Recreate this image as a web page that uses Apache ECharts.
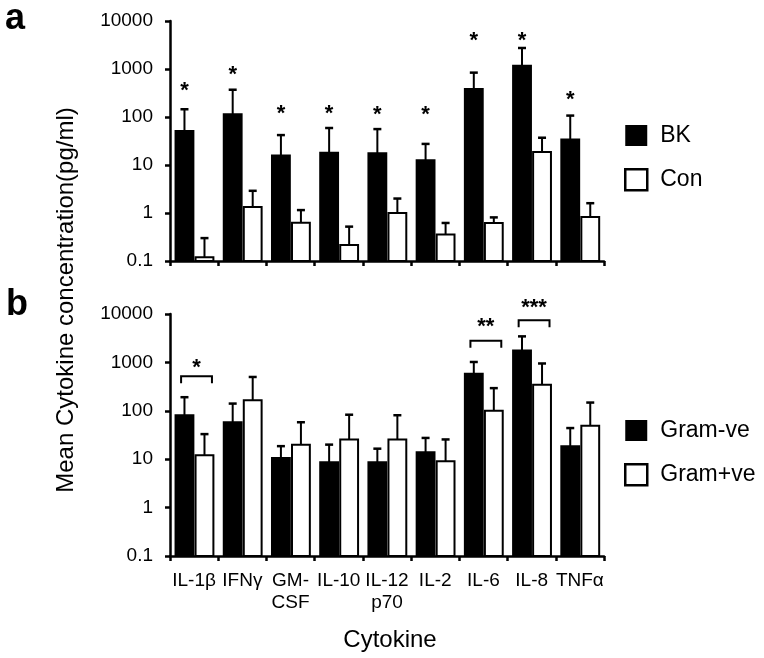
<!DOCTYPE html>
<html>
<head>
<meta charset="utf-8">
<script src="https://cdn.jsdelivr.net/npm/echarts@6/dist/echarts.min.js"></script>
<style>html,body{margin:0;padding:0;background:#fff;}#c{width:764px;height:658px;}</style>
</head>
<body>
<div id="c"></div>
<script>
const categories = ['IL-1β','IFNγ','GM-\nCSF','IL-10','IL-12\np70','IL-2','IL-6','IL-8','TNFα'];
const yTicks = [0.1, 1, 10, 100, 1000, 10000];

// Panel a
const bkMean   = [51, 114, 15.7, 18, 17.5, 12.5, 384, 1170, 34];
const bkUpper  = [145, 370, 42, 59, 56, 27.5, 840, 2740, 107];
const conMean  = [0.12, 1.33, 0.63, 0.215, 1.0, 0.355, 0.62, 18.7, 0.83];
const conUpper = [0.30, 2.9, 1.15, 0.52, 2.0, 0.62, 0.81, 37, 1.6];
const bkStarLevel = [436, 940, 145, 145, 138, 138, 5000, 5000, 294];

// Panel b
const gramNegMean  = [81, 58, 10.6, 8.6, 8.6, 14, 582, 1770, 18.5];
const gramNegUpper = [191, 141, 18.6, 20, 16.5, 27.5, 1020, 3450, 44];
const gramPosMean  = [12, 166, 20, 25.6, 25.6, 9.1, 100, 345, 49];
const gramPosUpper = [33, 500, 58, 83, 81, 25.6, 294, 950, 148];
const bracketCat = [0, 6, 7];
const bracketLevel = [520, 2800, 7400];
const bracketLabel = ['*', '**', '***'];
const bracketLabelLevel = [970, 6830, 17100];

const FONT = 'Liberation Sans, Arial, Helvetica, sans-serif';
const chart = echarts.init(document.getElementById('c'), null, {renderer: 'canvas'});

function barRender(offsetFrac, filled) {
  return function (params, api) {
    const i = api.value(0), v = api.value(1), e = api.value(2);
    const band = api.size([1, 1])[0];
    const top = api.coord([i, v]);
    const base = api.coord([i, 0.1]);
    const errTop = api.coord([i, e]);
    const w = band * 0.37;
    const cx = top[0] + band * offsetFrac;
    return {
      type: 'group',
      children: [
        {type: 'line', shape: {x1: cx, y1: top[1], x2: cx, y2: errTop[1]}, style: {stroke: '#000', lineWidth: 2}},
        {type: 'line', shape: {x1: cx - 4, y1: errTop[1], x2: cx + 4, y2: errTop[1]}, style: {stroke: '#000', lineWidth: 2.5}},
        {type: 'rect', shape: {x: cx - w / 2, y: top[1], width: w, height: base[1] - top[1]},
          style: {fill: filled ? '#000' : '#fff', stroke: '#000', lineWidth: 2}}
      ]
    };
  };
}

const starStyle = {fontSize: 22, fontWeight: 'bold', fontFamily: FONT, fill: '#000', textAlign: 'center', textVerticalAlign: 'middle'};

function starRender(params, api) {
  const i = api.value(0), v = api.value(1);
  const band = api.size([1, 1])[0];
  const p = api.coord([i, v]);
  return {type: 'text', x: p[0] - band * 0.2, y: p[1] + 5,
    style: Object.assign({text: '*'}, starStyle)};
}

function bracketRender(params, api) {
  const idx = params.dataIndex;
  const i = api.value(0), v = api.value(1), lv = api.value(2);
  const band = api.size([1, 1])[0];
  const p = api.coord([i, v]);
  const pl = api.coord([i, lv]);
  const x1 = p[0] - band * 0.27, x2 = p[0] + band * 0.37;
  return {
    type: 'group',
    children: [
      {type: 'polyline', shape: {points: [[x1, p[1] + 7], [x1, p[1]], [x2, p[1]], [x2, p[1] + 7]]},
        style: {stroke: '#000', lineWidth: 2, fill: null}},
      {type: 'text', x: (x1 + x2) / 2, y: pl[1] + 5,
        style: Object.assign({text: bracketLabel[idx]}, starStyle)}
    ]
  };
}

function xAxisCfg(grid, showLabels) {
  return {
    type: 'category', gridIndex: grid, data: categories,
    axisLine: {lineStyle: {color: '#000', width: 2.5}},
    axisTick: {show: true, length: 5, lineStyle: {color: '#000', width: 2.5}},
    axisLabel: {show: showLabels, interval: 0, color: '#000', fontSize: 19, fontFamily: FONT, margin: 14, lineHeight: 22},
    splitLine: {show: false}
  };
}
function yAxisCfg(grid) {
  return {
    type: 'log', logBase: 10, min: yTicks[0], max: yTicks[yTicks.length - 1], gridIndex: grid,
    axisLine: {show: true, lineStyle: {color: '#000', width: 2.5}},
    axisTick: {show: true, length: 5, lineStyle: {color: '#000', width: 2.5}},
    axisLabel: {color: '#000', fontSize: 19, fontFamily: FONT, margin: 17,
      formatter: function (v) { return String(+v.toPrecision(6)); }},
    splitLine: {show: false}
  };
}

const legendText = {fontSize: 23, fontFamily: FONT, color: '#000', lineHeight: 21, padding: [0, 0, 0, 8]};

const option = {
  backgroundColor: '#fff',
  animation: false,
  grid: [
    {left: 170, top: 21, width: 434, height: 240},
    {left: 170, top: 314, width: 434, height: 242}
  ],
  xAxis: [xAxisCfg(0, false), xAxisCfg(1, true)],
  yAxis: [yAxisCfg(0), yAxisCfg(1)],
  legend: [
    {orient: 'vertical', left: 624, top: 124, padding: 0, itemWidth: 22, itemHeight: 21, itemGap: 21, icon: 'rect',
      textStyle: legendText, selectedMode: false,
      data: [{name: 'BK', itemStyle: {color: '#000', borderWidth: 0}},
             {name: 'Con', itemStyle: {color: '#fff', borderColor: '#000', borderWidth: 2.5}}]},
    {orient: 'vertical', left: 624, top: 419, padding: 0, itemWidth: 22, itemHeight: 21, itemGap: 21, icon: 'rect',
      textStyle: legendText, selectedMode: false,
      data: [{name: 'Gram-ve', itemStyle: {color: '#000', borderWidth: 0}},
             {name: 'Gram+ve', itemStyle: {color: '#fff', borderColor: '#000', borderWidth: 2.5}}]}
  ],
  graphic: [
    {type: 'text', left: 5, top: 1, style: {text: 'a', fontSize: 36, fontWeight: 'bold', fontFamily: FONT, fill: '#000'}},
    {type: 'text', left: 6, top: 287, style: {text: 'b', fontSize: 36, fontWeight: 'bold', fontFamily: FONT, fill: '#000'}},
    {type: 'text', x: 66, y: 300, rotation: Math.PI / 2,
      style: {text: 'Mean Cytokine concentration(pg/ml)', fontSize: 24, fontFamily: FONT, fill: '#000', textAlign: 'center', textVerticalAlign: 'middle'}},
    {type: 'text', x: 390, y: 640,
      style: {text: 'Cytokine', fontSize: 24, fontFamily: FONT, fill: '#000', textAlign: 'center', textVerticalAlign: 'middle'}}
  ],
  series: [
    {name: 'BK', type: 'custom', xAxisIndex: 0, yAxisIndex: 0, itemStyle: {color: '#000'},
      renderItem: barRender(-0.2, true), data: categories.map((c, i) => [i, bkMean[i], bkUpper[i]])},
    {name: 'Con', type: 'custom', xAxisIndex: 0, yAxisIndex: 0, itemStyle: {color: '#fff', borderColor: '#000'},
      renderItem: barRender(0.215, false), data: categories.map((c, i) => [i, conMean[i], conUpper[i]])},
    {name: 'sigA', type: 'custom', xAxisIndex: 0, yAxisIndex: 0,
      renderItem: starRender, data: categories.map((c, i) => [i, bkStarLevel[i]])},
    {name: 'Gram-ve', type: 'custom', xAxisIndex: 1, yAxisIndex: 1, itemStyle: {color: '#000'},
      renderItem: barRender(-0.2, true), data: categories.map((c, i) => [i, gramNegMean[i], gramNegUpper[i]])},
    {name: 'Gram+ve', type: 'custom', xAxisIndex: 1, yAxisIndex: 1, itemStyle: {color: '#fff', borderColor: '#000'},
      renderItem: barRender(0.215, false), data: categories.map((c, i) => [i, gramPosMean[i], gramPosUpper[i]])},
    {name: 'sigB', type: 'custom', xAxisIndex: 1, yAxisIndex: 1,
      renderItem: bracketRender, data: bracketCat.map((c, k) => [c, bracketLevel[k], bracketLabelLevel[k]])}
  ]
};
chart.setOption(option);
</script>
</body>
</html>
